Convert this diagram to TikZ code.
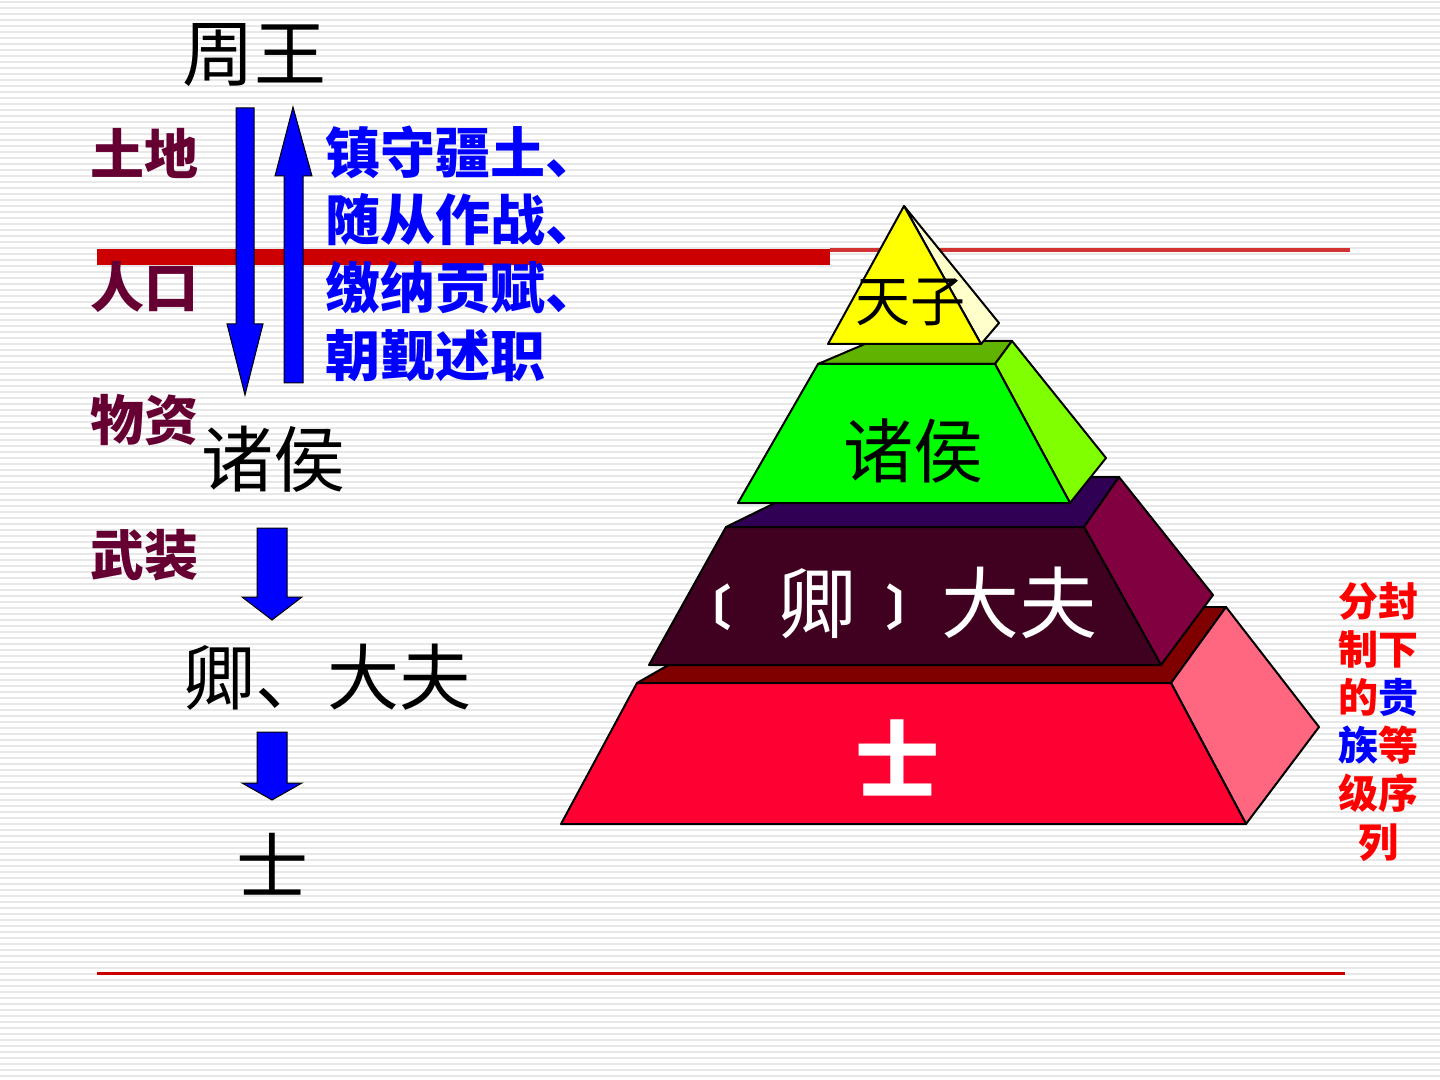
\documentclass[tikz,border=0pt]{standalone}
\usepackage{fontspec}
\newfontfamily\cjk{Noto Sans CJK SC}
\definecolor{labmaroon}{RGB}{102,0,51}
\definecolor{barred}{RGB}{204,0,0}
\definecolor{thinred}{RGB}{210,50,50}
\definecolor{ylwfront}{RGB}{255,255,0}
\definecolor{ylwside}{RGB}{255,255,204}
\definecolor{grnfront}{RGB}{0,255,0}
\definecolor{grntop}{RGB}{96,180,0}
\definecolor{grnside}{RGB}{128,255,0}
\definecolor{purtop}{RGB}{48,0,84}
\definecolor{purfront}{RGB}{64,0,32}
\definecolor{purside}{RGB}{128,0,64}
\definecolor{redtop}{RGB}{128,0,0}
\definecolor{redfront}{RGB}{255,0,51}
\definecolor{redside}{RGB}{255,102,128}
\definecolor{stripe}{RGB}{232,232,232}
\tikzset{
  blk/.style={font=\cjk\fontsize{36}{40}\selectfont, text=black, inner sep=0pt},
  lab/.style={font=\cjk\bfseries\fontsize{27}{30}\selectfont, text=labmaroon, inner sep=0pt},
  duty/.style={font=\cjk\bfseries\fontsize{27.5}{33.8}\selectfont, text=blue, inner sep=0pt, align=left},
  blockarrow/.style={fill=blue, draw=black, line width=0.5pt, line join=miter},
  face/.style={draw=black, line width=1pt, line join=round},
  ptext/.style={font=\cjk, inner sep=0pt},
}
\newcommand{\smallbr}[1]{\raisebox{3.5pt}{\bfseries\fontsize{24}{25}\selectfont #1}}
\begin{document}
\begin{tikzpicture}[x=0.5pt,y=-0.5pt]
\useasboundingbox (0,0) rectangle (1440,1080);
% background stripes
\fill[white] (0,0) rectangle (1440,1080);
\foreach \yy in {2,8,...,1080} {\draw[stripe, line width=1.1pt] (0,\yy) -- (1440,\yy);}
% red lines
\fill[barred] (97,249) rectangle (830,265);
\draw[thinred, line width=2pt] (830,250.5) -- (1350,250.5);
\draw[barred, line width=1.4pt] (97,973.5) -- (1345,973.5);

% left column
\node[blk] (zhouwang) at (254,55) {周王};
\node[blk] (zhuhou) at (273,459) {诸侯};
\node[blk] (qingdafu) at (327,677) {卿、大夫};
\node[blk] (shi) at (272,864) {士};
\node[lab] (tudi) at (144,153) {土地};
\node[lab] (renkou) at (144,287) {人口};
\node[lab] (wuzi) at (144,420) {物资};
\node[lab] (wuzhuang) at (144,555) {武装};
\node[duty, anchor=west] (duties) at (325,253.5) {镇守疆土、\\随从作战、\\缴纳贡赋、\\朝觐述职};

% long arrows
\draw[blockarrow] (236,108) -- (254,108) -- (254,324) -- (263,324) -- (245,395) -- (227,324) -- (236,324) -- cycle;
\draw[blockarrow] (284,383) -- (303,383) -- (303,176) -- (312,176) -- (293,107) -- (275,176) -- (284,176) -- cycle;
% short arrows
\draw[blockarrow] (257,528) -- (287,528) -- (287,597) -- (302,597) -- (272,620) -- (242,597) -- (257,597) -- cycle;
\draw[blockarrow] (257,732) -- (287,732) -- (287,783) -- (302,783) -- (272,800) -- (242,783) -- (257,783) -- cycle;

% pyramid: bottom tier
\draw[face, fill=redtop] (637,683) -- (1171,683) -- (1226,607) -- (770,607) -- cycle;
\draw[face, fill=redside] (1171,683) -- (1226,607) -- (1319,727) -- (1246,824) -- cycle;
\draw[face, fill=redfront] (637,683) -- (1171,683) -- (1246,824) -- (561,824) -- cycle;
% second tier
\draw[face, fill=purtop] (726,527) -- (1084,527) -- (1119,477) -- (828,477) -- cycle;
\draw[face, fill=purside] (1084,527) -- (1119,477) -- (1213,595) -- (1161,665) -- cycle;
\draw[face, fill=purfront] (726,527) -- (1084,527) -- (1161,665) -- (649,665) -- cycle;
% third tier
\draw[face, fill=grntop] (818,364) -- (995,364) -- (1012,341) -- (872,341) -- cycle;
\draw[face, fill=grnside] (995,364) -- (1012,341) -- (1106,458) -- (1070,503) -- cycle;
\draw[face, fill=grnfront] (818,364) -- (995,364) -- (1070,503) -- (738,503) -- cycle;
% apex
\draw[face, fill=ylwside] (904,206) -- (999,323) -- (981,344) -- cycle;
\draw[face, fill=ylwfront] (904,206) -- (981,344) -- (828,344) -- cycle;

\node[ptext, font=\cjk\fontsize{27.5}{30}\selectfont] (tianzi) at (910,302) {天子};
\node[ptext, font=\cjk\fontsize{35}{38}\selectfont] (zhuhou2) at (913,451) {诸侯};
\node[ptext, font=\cjk\fontsize{39}{42}\selectfont, text=white, anchor=west] (qing2) at (683,603)
 {\smallbr{〔}\hspace{23.5pt}卿\hspace{15pt}\smallbr{〕}\hspace{3.5pt}大夫};
\node[ptext, font=\cjk\bfseries\fontsize{42}{45}\selectfont, text=white] (shi2) at (897,758) {士};

% right caption
\node[ptext, font=\cjk\bfseries\fontsize{20}{24.1}\selectfont, text=red, align=center] (caption) at (1378,721.5)
 {分封\\制下\\的\textcolor{blue}{贵}\\\textcolor{blue}{族}等\\级序\\列};
\end{tikzpicture}
\end{document}
